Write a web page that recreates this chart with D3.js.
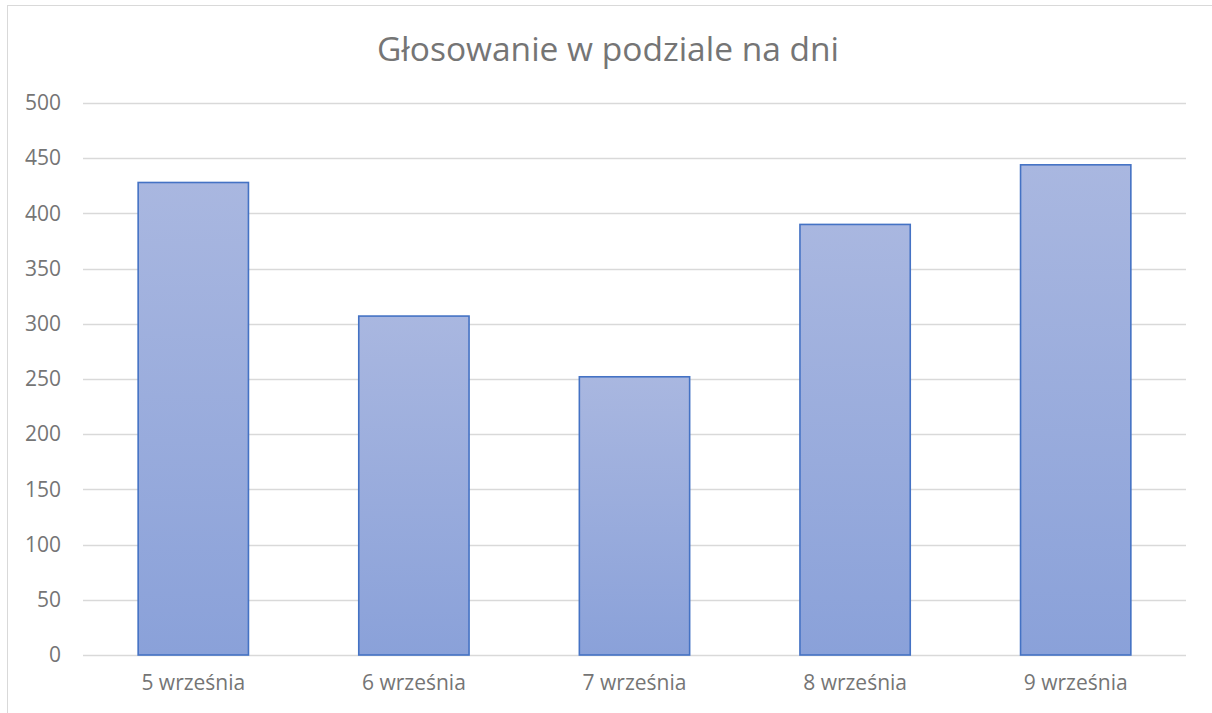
<!DOCTYPE html>
<html>
<head>
<meta charset="utf-8">
<script src="https://cdn.jsdelivr.net/npm/d3@7"></script>
<style>
  body { margin: 0; background: #fff; }
  text { font-family: "Open Sans", "Noto Sans", sans-serif; }
</style>
</head>
<body>
<div id="chart"></div>
<script>
// data
var days = ["5 września", "6 września", "7 września", "8 września", "9 września"];
var votes = [428, 307, 252, 390, 444];
var yTicks = [0, 50, 100, 150, 200, 250, 300, 350, 400, 450, 500];
var title = "Głosowanie w podziale na dni";

var W = 1212, H = 713;
var margin = { top: 103, right: 26, bottom: 58, left: 83 },
    width = W - margin.left - margin.right,
    height = H - margin.top - margin.bottom;

var root = d3.select("#chart")
    .append("svg")
    .attr("width", W)
    .attr("height", H);

// gradient for the bars
var grad = root.append("defs").append("linearGradient")
    .attr("id", "barGrad")
    .attr("x1", 0).attr("y1", 0).attr("x2", 0).attr("y2", 1);
grad.append("stop").attr("offset", "0%").attr("stop-color", "#a9b7e0");
grad.append("stop").attr("offset", "100%").attr("stop-color", "#8aa1d9");

// chart area frame (only left and top edges show)
root.append("rect")
    .attr("x", 7.5).attr("y", 5.5)
    .attr("width", W).attr("height", H)
    .attr("fill", "none")
    .attr("stroke", "#d9d9d9")
    .attr("stroke-width", 1);

root.append("text")
    .attr("x", 608)
    .attr("y", 61)
    .attr("text-anchor", "middle")
    .style("font-size", "33.5px")
    .style("fill", "#757575")
    .text(title);

var svg = root.append("g")
    .attr("transform", "translate(" + margin.left + "," + margin.top + ")");

var x = d3.scaleBand()
    .domain(days)
    .range([0, width])
    .paddingInner(0.5)
    .paddingOuter(0.25);

var y = d3.scaleLinear()
    .domain([0, 500])
    .range([height, 0]);

// gridlines
svg.append("g")
    .selectAll("line")
    .data(yTicks)
    .enter()
    .append("line")
    .attr("x1", 0)
    .attr("x2", width)
    .attr("y1", function (d) { return Math.round(y(d)) + 0.5; })
    .attr("y2", function (d) { return Math.round(y(d)) + 0.5; })
    .attr("stroke", "#d9d9d9")
    .attr("stroke-width", 1.3);

// y axis labels
var yAxis = svg.append("g")
    .attr("transform", "translate(-22,0)")
    .call(d3.axisLeft(y).tickValues(yTicks).tickSize(0).tickPadding(0));
yAxis.select(".domain").remove();
yAxis.selectAll("text")
    .style("font-size", "21px")
    .style("fill", "#757575")
    .style("font-family", "'Open Sans', sans-serif");

// bars
svg.selectAll("rect.bar")
    .data(votes)
    .enter()
    .append("rect")
    .attr("class", "bar")
    .attr("x", function (d, i) { return x(days[i]); })
    .attr("y", function (d) { return y(d); })
    .attr("width", x.bandwidth())
    .attr("height", function (d) { return height - y(d); })
    .attr("fill", "url(#barGrad)")
    .attr("stroke", "#4472c4")
    .attr("stroke-width", 1.6);

// x axis labels
var xAxis = svg.append("g")
    .attr("transform", "translate(0," + (height + 20) + ")")
    .call(d3.axisBottom(x).tickSize(0).tickPadding(0));
xAxis.select(".domain").remove();
xAxis.selectAll("text")
    .attr("dy", "0.71em")
    .style("font-size", "21px")
    .style("fill", "#757575")
    .style("font-family", "'Open Sans', sans-serif");
</script>
</body>
</html>
